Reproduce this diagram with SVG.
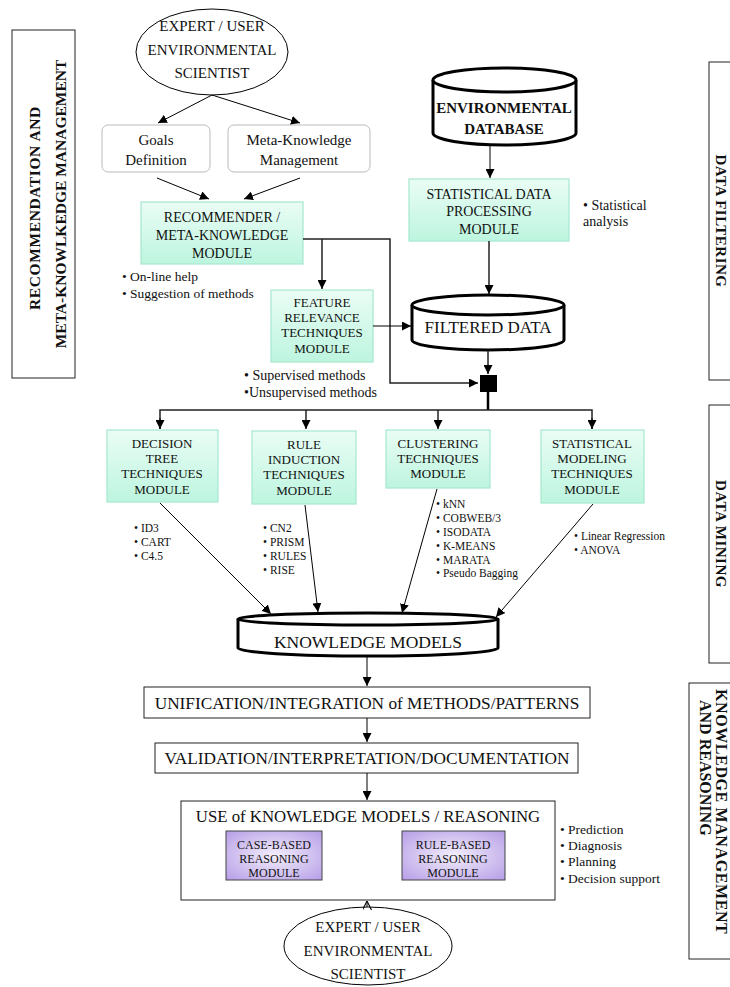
<svg xmlns="http://www.w3.org/2000/svg" width="730" height="987" viewBox="0 0 730 987">
<defs>
<linearGradient id="green" x1="0" y1="0" x2="0" y2="1">
<stop offset="0" stop-color="#eafdf5"/>
<stop offset="1" stop-color="#bdf5df"/>
</linearGradient>
<radialGradient id="purple" cx="0.5" cy="0.5" r="0.7">
<stop offset="0" stop-color="#f3eefc"/>
<stop offset="1" stop-color="#b69ee6"/>
</radialGradient>
<marker id="arr" viewBox="0 0 10 10" refX="10" refY="5" markerWidth="9" markerHeight="9" markerUnits="userSpaceOnUse" orient="auto">
<path d="M0,0 L10,5 L0,10 z" fill="#000"/>
</marker>
<marker id="open" viewBox="0 0 10 10" refX="10" refY="5" markerWidth="9" markerHeight="9" markerUnits="userSpaceOnUse" orient="auto">
<path d="M0,0 L10,5 L0,10" fill="none" stroke="#000" stroke-width="1.2"/>
</marker>
</defs>
<style>
text{font-family:"Liberation Serif","Times New Roman",serif;fill:#111}
.c{text-anchor:middle}
.t15{font-size:15px}
.t14{font-size:14px}
.t13{font-size:13px}
.t12{font-size:12px}
.b13{font-size:13.5px}
.t11{font-size:11.5px}
.big{font-size:17.3px}
.side{font-size:15.5px;font-weight:bold;text-anchor:middle}
.sideR{font-size:15px;font-weight:bold;text-anchor:middle}
.sideK{font-size:16px;font-weight:bold}
.green{fill:url(#green);stroke:#a6e8cf;stroke-width:1.2}
.purple{fill:url(#purple);stroke:#444;stroke-width:1}
.plain{fill:#fff;stroke:#222;stroke-width:1}
.round{fill:#fff;stroke:#bbb;stroke-width:1}
.cyl{fill:#fff;stroke:#000;stroke-width:3}
.ln{fill:none;stroke:#000;stroke-width:1}
.ln2{fill:none;stroke:#222;stroke-width:1.5}
</style>

<g id="side-recommendation">
<rect x="12" y="30" width="63" height="348" fill="none" stroke="#222" stroke-width="1"/>
<text class="side" transform="translate(40,208) rotate(-90)" style="letter-spacing:0.6px">RECOMMENDATION AND</text>
<text class="side" transform="translate(66,204) rotate(-90)">META-KNOWLKEDGE MANAGEMENT</text>
</g>
<g id="side-filtering">
<rect x="709" y="62" width="30" height="318" fill="none" stroke="#222" stroke-width="1"/>
<text class="sideR" transform="translate(716,221) rotate(90)" style="letter-spacing:0.5px">DATA  FILTERING</text>
</g>
<g id="side-mining">
<rect x="709" y="405" width="30" height="258" fill="none" stroke="#222" stroke-width="1"/>
<text class="sideR" transform="translate(716,534) rotate(90)" style="letter-spacing:0.5px">DATA  MINING</text>
</g>
<g id="side-knowledge">
<rect x="689" y="683" width="50" height="276" fill="none" stroke="#222" stroke-width="1"/>
<text class="sideK" transform="translate(716,689) rotate(90)" style="letter-spacing:0.6px">KNOWLEDGE  MANAGEMENT</text>
<text class="sideK" transform="translate(700,700) rotate(90)">AND REASONING</text>
</g>

<g id="expert-top">
<ellipse cx="212" cy="52" rx="76" ry="43" fill="#fff" stroke="#000" stroke-width="1"/>
<text class="c t15" x="212" y="31">EXPERT / USER</text>
<text class="c t15" x="212" y="55">ENVIRONMENTAL</text>
<text class="c t15" x="212" y="78">SCIENTIST</text>
</g>
<g id="goals">
<rect class="round" x="102" y="125" width="108" height="47" rx="6"/>
<text class="c t15" x="156" y="145">Goals</text>
<text class="c t15" x="156" y="165">Definition</text>
</g>
<g id="metaknowledge">
<rect class="round" x="228" y="125" width="142" height="47" rx="6"/>
<text class="c t15" x="299" y="145">Meta-Knowledge</text>
<text class="c t15" x="299" y="165">Management</text>
</g>
<g id="recommender">
<rect class="green" x="141" y="202" width="162" height="62"/>
<text class="c t14" x="222" y="222">RECOMMENDER /</text>
<text class="c t14" x="222" y="240">META-KNOWLEDGE</text>
<text class="c t14" x="222" y="258">MODULE</text>
<text class="b13" x="122" y="281">• On-line  help</text>
<text class="b13" x="122" y="298">• Suggestion  of methods</text>
</g>
<g id="feature">
<rect class="green" x="271" y="290" width="102" height="72"/>
<text class="c t13" x="322" y="307">FEATURE</text>
<text class="c t13" x="322" y="322">RELEVANCE</text>
<text class="c t13" x="322" y="337">TECHNIQUES</text>
<text class="c t13" x="322" y="353">MODULE</text>
<text class="t14" x="244" y="380">• Supervised  methods</text>
<text class="t14" x="244" y="397">•Unsupervised methods</text>
</g>
<g id="envdb">
<path class="cyl" d="M433,80 L433,133 A71.5,12 0 0 0 576,133 L576,80"/>
<ellipse class="cyl" cx="504.5" cy="80" rx="71.5" ry="12"/>
<text class="c" x="504" y="113" style="font-size:15px;font-weight:bold">ENVIRONMENTAL</text>
<text class="c" x="504" y="134" style="font-size:15px;font-weight:bold">DATABASE</text>
</g>
<g id="statproc">
<rect class="green" x="409" y="179" width="160" height="62"/>
<text class="c t14" x="489" y="199">STATISTICAL DATA</text>
<text class="c t14" x="489" y="216">PROCESSING</text>
<text class="c t14" x="489" y="234">MODULE</text>
<text class="t14" x="583" y="210">• Statistical</text>
<text class="t14" x="583" y="226">analysis</text>
</g>
<g id="filtered">
<path class="cyl" d="M412,305 L412,340 A76,10 0 0 0 564,340 L564,305"/>
<ellipse class="cyl" cx="488" cy="305" rx="76" ry="10"/>
<text class="c" x="488" y="333" style="font-size:17px">FILTERED DATA</text>
</g>
<g id="junction">
<rect x="480" y="375" width="17" height="17" fill="#000"/>
</g>
<g id="decision">
<rect class="green" x="107" y="430" width="111" height="72"/>
<text class="c t13" x="162" y="448">DECISION</text>
<text class="c t13" x="162" y="463">TREE</text>
<text class="c t13" x="162" y="478">TECHNIQUES</text>
<text class="c t13" x="162" y="494">MODULE</text>
<text class="t11" x="134" y="532">• ID3</text>
<text class="t11" x="134" y="546">• CART</text>
<text class="t11" x="134" y="560">• C4.5</text>
</g>
<g id="rule">
<rect class="green" x="252" y="431" width="104" height="73"/>
<text class="c t13" x="304" y="449">RULE</text>
<text class="c t13" x="304" y="464">INDUCTION</text>
<text class="c t13" x="304" y="479">TECHNIQUES</text>
<text class="c t13" x="304" y="495">MODULE</text>
<text class="t11" x="263" y="532">• CN2</text>
<text class="t11" x="263" y="546">• PRISM</text>
<text class="t11" x="263" y="560">• RULES</text>
<text class="t11" x="263" y="574">• RISE</text>
</g>
<g id="clustering">
<rect class="green" x="386" y="430" width="104" height="58"/>
<text class="c t13" x="438" y="448">CLUSTERING</text>
<text class="c t13" x="438" y="463">TECHNIQUES</text>
<text class="c t13" x="438" y="478">MODULE</text>
<text class="t11" x="436" y="508">• kNN</text>
<text class="t11" x="436" y="522">• COBWEB/3</text>
<text class="t11" x="436" y="536">• ISODATA</text>
<text class="t11" x="436" y="550">• K-MEANS</text>
<text class="t11" x="436" y="564">• MARATA</text>
<text class="t11" x="436" y="577">• Pseudo Bagging</text>
</g>
<g id="statmodel">
<rect class="green" x="541" y="430" width="103" height="73"/>
<text class="c t13" x="592" y="448">STATISTICAL</text>
<text class="c t13" x="592" y="463">MODELING</text>
<text class="c t13" x="592" y="478">TECHNIQUES</text>
<text class="c t13" x="592" y="494">MODULE</text>
<text class="t11" x="574" y="540">• Linear Regression</text>
<text class="t11" x="574" y="554">• ANOVA</text>
</g>
<g id="knowledge-models">
<path class="cyl" d="M238,619 L238,648 A130,8 0 0 0 498,648 L498,619"/>
<ellipse class="cyl" cx="368" cy="619" rx="130" ry="6"/>
<text class="c" x="368" y="648" style="font-size:17.5px">KNOWLEDGE MODELS</text>
</g>
<g id="unification">
<rect class="plain" x="144" y="687" width="446" height="31"/>
<text class="c big" x="367" y="709">UNIFICATION/INTEGRATION of METHODS/PATTERNS</text>
</g>
<g id="validation">
<rect class="plain" x="155" y="743" width="423" height="30"/>
<text class="c big" x="367" y="764">VALIDATION/INTERPRETATION/DOCUMENTATION</text>
</g>
<g id="use">
<rect class="plain" x="181" y="801" width="374" height="99"/>
<text class="c" x="368" y="822" style="font-size:16.8px">USE of KNOWLEDGE MODELS / REASONING</text>
<text class="b13" x="560" y="834">• Prediction</text>
<text class="b13" x="560" y="850">• Diagnosis</text>
<text class="b13" x="560" y="866">• Planning</text>
<text class="b13" x="560" y="883">• Decision  support</text>
</g>
<g id="case-based">
<rect class="purple" x="226" y="831" width="96" height="49"/>
<text class="c t12" x="274" y="849">CASE-BASED</text>
<text class="c t12" x="274" y="863">REASONING</text>
<text class="c t12" x="274" y="877">MODULE</text>
</g>
<g id="rule-based">
<rect class="purple" x="402" y="831" width="103" height="49"/>
<text class="c t12" x="453" y="849">RULE-BASED</text>
<text class="c t12" x="453" y="863">REASONING</text>
<text class="c t12" x="453" y="877">MODULE</text>
</g>
<g id="expert-bottom">
<ellipse cx="368" cy="946" rx="84" ry="39" fill="#fff" stroke="#000" stroke-width="1"/>
<text class="c t15" x="368" y="932">EXPERT / USER</text>
<text class="c t15" x="368" y="956">ENVIRONMENTAL</text>
<text class="c t15" x="368" y="979">SCIENTIST</text>
</g>

<g id="connectors">
<line class="ln" x1="212" y1="95" x2="158" y2="123" marker-end="url(#arr)"/>
<line class="ln" x1="212" y1="95" x2="300" y2="123" marker-end="url(#arr)"/>
<line class="ln" x1="157" y1="178" x2="209" y2="199" marker-end="url(#arr)"/>
<line class="ln" x1="300" y1="178" x2="244" y2="199" marker-end="url(#arr)"/>
<polyline class="ln2" points="303,239 390,239 390,383 478,383" marker-end="url(#arr)"/>
<line class="ln2" x1="322" y1="239" x2="322" y2="289" marker-end="url(#arr)"/>
<line class="ln" x1="373" y1="326" x2="411" y2="326" marker-end="url(#arr)"/>
<line class="ln" x1="490" y1="146" x2="490" y2="178" marker-end="url(#arr)"/>
<line class="ln2" x1="489" y1="241" x2="489" y2="294" marker-end="url(#arr)"/>
<line class="ln2" x1="488" y1="351" x2="488" y2="374" marker-end="url(#arr)"/>
<line x1="488" y1="392" x2="488" y2="410" stroke="#000" stroke-width="2.5"/>
<polyline class="ln2" points="160,429 160,410 592,410 592,429"/>
<line class="ln" x1="160" y1="418" x2="160" y2="429" marker-end="url(#arr)"/>
<line class="ln2" x1="306" y1="410" x2="306" y2="429" marker-end="url(#arr)"/>
<line class="ln2" x1="438" y1="410" x2="438" y2="429" marker-end="url(#arr)"/>
<line class="ln" x1="592" y1="418" x2="592" y2="429" marker-end="url(#arr)"/>
<line class="ln" x1="160" y1="503" x2="271" y2="614" marker-end="url(#arr)"/>
<line class="ln" x1="305" y1="505" x2="318" y2="612" marker-end="url(#arr)"/>
<line class="ln" x1="437" y1="489" x2="402" y2="613" marker-end="url(#arr)"/>
<line class="ln" x1="593" y1="504" x2="496" y2="617" marker-end="url(#arr)"/>
<line class="ln" x1="367" y1="657" x2="367" y2="686" marker-end="url(#arr)"/>
<line class="ln" x1="367" y1="718" x2="367" y2="742" marker-end="url(#arr)"/>
<line class="ln" x1="367" y1="773" x2="367" y2="800" marker-end="url(#arr)"/>
<line class="ln" x1="367" y1="907" x2="367" y2="901" marker-end="url(#open)"/>
</g>
</svg>
